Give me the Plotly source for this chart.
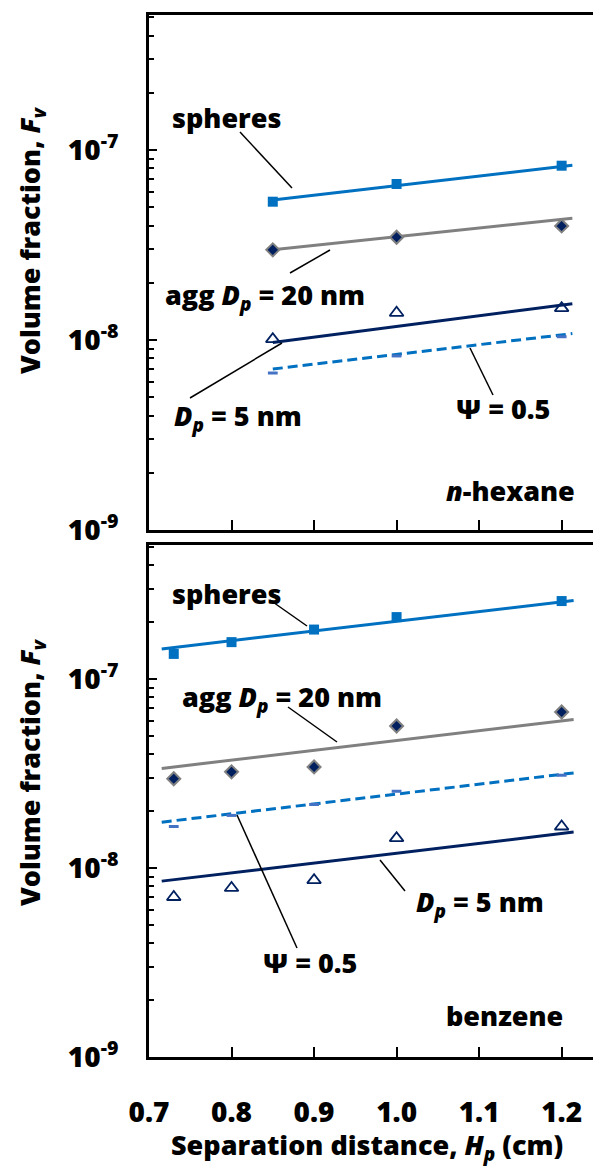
import plotly.graph_objects as go

# ---------------- data ----------------
# n-hexane (top panel)
hex_x = [0.85, 1.0, 1.2]
hex_spheres = [5.34e-8, 6.62e-8, 8.26e-8]
hex_agg = [2.98e-8, 3.47e-8, 3.98e-8]
hex_dp5 = [1.01e-8, 1.39e-8, 1.47e-8]
hex_psi = [6.7e-9, 8.24e-9, 1.04e-8]
hex_fit_x = [0.85, 1.213]
hex_fit_spheres = [5.45e-8, 8.3e-8]
hex_fit_agg = [2.98e-8, 4.37e-8]
hex_fit_dp5 = [9.7e-9, 1.55e-8]
hex_fit_psi = [7.03e-9, 1.08e-8]

# benzene (bottom panel)
ben_x = [0.73, 0.8, 0.9, 1.0, 1.2]
ben_spheres = [1.36e-7, 1.57e-7, 1.83e-7, 2.13e-7, 2.59e-7]
ben_agg = [2.97e-8, 3.23e-8, 3.43e-8, 5.65e-8, 6.70e-8]
ben_dp5 = [7.03e-9, 7.85e-9, 8.63e-9, 1.44e-8, 1.66e-8]
ben_psi = [1.66e-8, 1.9e-8, 2.17e-8, 2.55e-8, 3.1e-8]
ben_fit_x = [0.7154, 1.2145]
ben_fit_spheres = [1.445e-7, 2.61e-7]
ben_fit_agg = [3.37e-8, 6.12e-8]
ben_fit_dp5 = [8.53e-9, 1.55e-8]
ben_fit_psi = [1.75e-8, 3.19e-8]

x_tickvals = [0.7, 0.8, 0.9, 1.0, 1.1, 1.2]
x_ticktext = ["0.7", "0.8", "0.9", "1.0", "1.1", "1.2"]
y_tickvals = [1e-9, 1e-8, 1e-7]
y_ticktext = ["10<sup>-9</sup>", "10<sup>-8</sup>", "10<sup>-7</sup>"]
y_minor = [m * 10.0 ** e for e in (-9, -8, -7) for m in range(2, 10)]

# ---------------- style ----------------
BLUE = "#0070C0"
GRAY = "#808080"
NAVY = "#002060"
PSI_MK = "#4472C4"
FONT = "Open Sans"
WT = 800

W, H = 593, 1169
ML, MR, MT, MB = 149, 0, 15, 112
PW = W - ML - MR
PH = H - MT - MB


def px(x, y):
    return (x - ML) / PW, (H - MB - y) / PH


fig = go.Figure()


def add_panel(xs, sph, agg, dp5, psi, fx, fsph, fagg, fdp5, fpsi, xa, ya):
    # fit lines
    fig.add_trace(go.Scatter(x=fx, y=fsph, mode="lines", line=dict(color=BLUE, width=3),
                             xaxis=xa, yaxis=ya, showlegend=False))
    fig.add_trace(go.Scatter(x=fx, y=fagg, mode="lines", line=dict(color=GRAY, width=3),
                             xaxis=xa, yaxis=ya, showlegend=False))
    fig.add_trace(go.Scatter(x=fx, y=fdp5, mode="lines", line=dict(color=NAVY, width=3),
                             xaxis=xa, yaxis=ya, showlegend=False))
    fig.add_trace(go.Scatter(x=fx, y=fpsi, mode="lines",
                             line=dict(color=BLUE, width=3, dash="10px,5px"),
                             xaxis=xa, yaxis=ya, showlegend=False))
    # markers
    fig.add_trace(go.Scatter(x=xs, y=sph, mode="markers",
                             marker=dict(symbol="square", size=10, color=BLUE),
                             xaxis=xa, yaxis=ya, showlegend=False))
    fig.add_trace(go.Scatter(x=xs, y=agg, mode="markers",
                             marker=dict(symbol="diamond", size=10, color=NAVY,
                                         line=dict(color=GRAY, width=2)),
                             xaxis=xa, yaxis=ya, showlegend=False))
    fig.add_trace(go.Scatter(x=xs, y=dp5, mode="markers",
                             marker=dict(symbol="triangle-up-open", size=12, color=NAVY,
                                         line=dict(color=NAVY, width=1.8)),
                             xaxis=xa, yaxis=ya, showlegend=False))
    fig.add_trace(go.Scatter(x=xs, y=psi, mode="markers",
                             marker=dict(symbol="line-ew", size=7, color=PSI_MK,
                                         line=dict(color=PSI_MK, width=3)),
                             xaxis=xa, yaxis=ya, showlegend=False))


add_panel(hex_x, hex_spheres, hex_agg, hex_dp5, hex_psi,
          hex_fit_x, hex_fit_spheres, hex_fit_agg, hex_fit_dp5, hex_fit_psi, "x", "y")
add_panel(ben_x, ben_spheres, ben_agg, ben_dp5, ben_psi,
          ben_fit_x, ben_fit_spheres, ben_fit_agg, ben_fit_dp5, ben_fit_psi, "x2", "y2")

top_dom = [(H - MB - 530) / PH, 1.0]
bot_dom = [0.0, (H - MB - 545) / PH]

xcommon = dict(range=[0.7, 1.238], showgrid=False, zeroline=False,
               showline=True, linecolor="black", linewidth=3, mirror=True,
               ticks="inside", ticklen=10, tickwidth=2, tickcolor="black",
               tickvals=x_tickvals, ticktext=x_ticktext,
               tickfont=dict(family=FONT, size=28, color="black", weight=WT))
ycommon = dict(type="log", range=[-9, -6.29], showgrid=False, zeroline=False,
               showline=True, linecolor="black", linewidth=3,
               ticks="inside", ticklen=8, tickwidth=2, tickcolor="black",
               tickvals=y_tickvals, ticktext=y_ticktext, ticklabelstandoff=22,
               minor=dict(ticks="inside", ticklen=5, tickwidth=1.5, tickcolor="black",
                          tickvals=y_minor, showgrid=False),
               tickfont=dict(family=FONT, size=28, color="black", weight=WT))

fig.update_layout(
    width=W, height=H,
    margin=dict(l=ML, r=MR, t=MT, b=MB, pad=0),
    paper_bgcolor="white", plot_bgcolor="white",
    font=dict(family=FONT, color="black", weight=WT),
    xaxis=dict(**xcommon, anchor="y", showticklabels=False),
    yaxis=dict(**ycommon, domain=top_dom, anchor="x"),
    xaxis2=dict(**xcommon, anchor="y2", ticklabelstandoff=28),
    yaxis2=dict(**ycommon, domain=bot_dom, anchor="x2"),
)

ann = []
shapes = []


def label(text, x, y, size=27):
    xp, yp = px(x, y)
    ann.append(dict(text=text, x=xp, y=yp, xref="paper", yref="paper",
                    xanchor="center", yanchor="middle", showarrow=False,
                    font=dict(family=FONT, size=size, color="black", weight=WT)))


def leader(x0, y0, x1, y1):
    a0, b0 = px(x0, y0)
    a1, b1 = px(x1, y1)
    shapes.append(dict(type="line", xref="paper", yref="paper",
                       x0=a0, y0=b0, x1=a1, y1=b1,
                       line=dict(color="black", width=1.5)))


# top panel labels
label("spheres", 226, 118)
leader(240, 132, 292, 188)
label("agg <i>D<sub>p</sub></i> = 20 nm", 265, 296)
leader(290, 273, 330, 250)
label("<i>D<sub>p</sub></i> = 5 nm", 238, 417)
leader(190, 398, 282, 343)
label("Ψ = 0.5", 503, 408)
leader(470, 348, 493, 395)
label("<i>n</i>-hexane", 510, 490)

# bottom panel labels
label("spheres", 226, 593)
leader(270, 600, 307, 626)
label("agg <i>D<sub>p</sub></i> = 20 nm", 282, 698)
leader(288, 707, 337, 742)
label("Ψ = 0.5", 310, 963)
leader(237, 815, 297, 948)
label("<i>D<sub>p</sub></i> = 5 nm", 480, 903)
leader(380, 860, 405, 891)
label("benzene", 504, 1015)

# axis titles
for yc in (240, 772):
    xp, yp = px(31, yc)
    ann.append(dict(text="Volume fraction, <i>F<sub>v</sub></i>", x=xp, y=yp,
                    xref="paper", yref="paper", xanchor="center", yanchor="middle",
                    textangle=-90, showarrow=False,
                    font=dict(family=FONT, size=27, color="black", weight=WT)))
xp, yp = px(367, 1146)
ann.append(dict(text="Separation distance, <i>H<sub>p</sub></i> (cm)", x=xp, y=yp,
                xref="paper", yref="paper", xanchor="center", yanchor="middle",
                showarrow=False,
                font=dict(family=FONT, size=27, color="black", weight=WT)))

fig.update_layout(annotations=ann, shapes=shapes)
fig.write_html("out.html")
